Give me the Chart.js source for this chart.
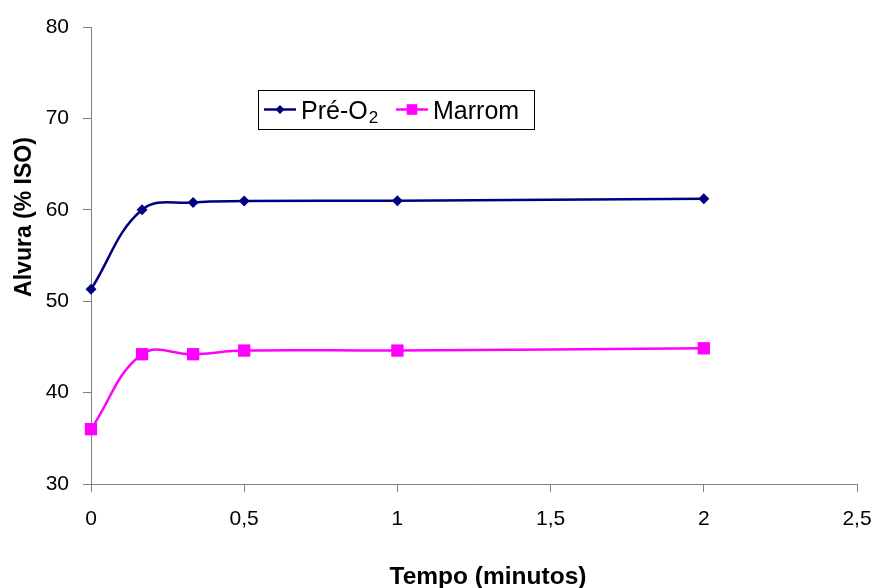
<!DOCTYPE html>
<html>
<head>
<meta charset="utf-8">
<script src="https://cdn.jsdelivr.net/npm/chart.js@4.4.1/dist/chart.umd.min.js"></script>
<style>
  html, body { margin: 0; padding: 0; background: #fff; }
  #wrap { width: 876px; height: 588px; }
</style>
</head>
<body>
<div id="wrap"><canvas id="chart" width="876" height="588"></canvas></div>
<script>
// data
const times = [0, 1 / 6, 1 / 3, 0.5, 1, 2];
const preO2 = [51.3, 60.0, 60.8, 60.95, 61.0, 61.2];
const marrom = [36.0, 44.2, 44.2, 44.6, 44.6, 44.85];
const seriesLabels = ["Pré-O₂", "Marrom"];
const xTitle = "Tempo (minutos)";
const yTitle = "Alvura (% ISO)";

const navy = "#000080";
const magenta = "#ff00ff";
const axisGray = "#808080";
const fontFamily = "'Liberation Sans', Arial, sans-serif";

const toPoints = (ys) => ys.map((y, i) => ({ x: times[i], y }));
const commaNum = (v) => String(Math.round(Number(v) * 10) / 10).replace(".", ",");

// draws text where subscript digits are drawn small and lowered
function drawLabel(ctx, text, x, y, size) {
  const subs = "₀₁₂₃₄₅₆₇₈₉";
  let cx = x;
  for (const ch of text) {
    const k = subs.indexOf(ch);
    if (k >= 0) {
      ctx.font = `${Math.round(size * 0.68)}px ${fontFamily}`;
      ctx.fillText(String(k), cx + 1, y + 4);
      cx += ctx.measureText(String(k)).width + 1;
    } else {
      ctx.font = `${size}px ${fontFamily}`;
      ctx.fillText(ch, cx, y);
      cx += ctx.measureText(ch).width;
    }
  }
}

function drawMarker(ctx, style, x, y, r, color) {
  ctx.fillStyle = color;
  ctx.beginPath();
  if (style === "rectRot") {
    ctx.moveTo(x - r, y);
    ctx.lineTo(x, y - r);
    ctx.lineTo(x + r, y);
    ctx.lineTo(x, y + r);
  } else {
    const s = r * Math.SQRT1_2;
    ctx.rect(x - s, y - s, 2 * s, 2 * s);
  }
  ctx.closePath();
  ctx.fill();
}

// axis titles + in-plot legend box (Excel style)
const extras = {
  id: "extras",
  afterDraw(chart) {
    const ctx = chart.ctx;
    ctx.save();
    ctx.fillStyle = "#000";
    ctx.textBaseline = "alphabetic";
    ctx.textAlign = "center";
    ctx.font = `bold 24.5px ${fontFamily}`;
    ctx.fillText(xTitle, 488, 584);
    ctx.save();
    ctx.font = `bold 23px ${fontFamily}`;
    ctx.translate(31, 217);
    ctx.rotate(-Math.PI / 2);
    ctx.fillText(yTitle, 0, 0);
    ctx.restore();

    // legend
    ctx.strokeStyle = "#000";
    ctx.lineWidth = 1;
    ctx.strokeRect(258.5, 90.5, 276, 39);
    ctx.textAlign = "left";
    const itemX = [264, 396];
    chart.data.datasets.forEach((ds, i) => {
      const x0 = itemX[i];
      const ly = 109.5;
      ctx.strokeStyle = ds.borderColor;
      ctx.lineWidth = 2.5;
      ctx.beginPath();
      ctx.moveTo(x0, ly);
      ctx.lineTo(x0 + 32, ly);
      ctx.stroke();
      drawMarker(ctx, ds.pointStyle, x0 + 16, ly, ds.pointStyle === "rectRot" ? 4.5 : 7.5, ds.borderColor);
      ctx.fillStyle = "#000";
      drawLabel(ctx, ds.label, x0 + 37, 119, 25);
    });
    ctx.restore();
  },
};

new Chart(document.getElementById("chart"), {
  type: "line",
  data: {
    datasets: [
      {
        label: seriesLabels[0],
        data: toPoints(preO2),
        borderColor: navy,
        backgroundColor: navy,
        borderWidth: 2.5,
        pointStyle: "rectRot",
        pointRadius: 5.5,
        pointBorderWidth: 0,
        tension: 0.4,
        clip: false,
      },
      {
        label: seriesLabels[1],
        data: toPoints(marrom),
        borderColor: magenta,
        backgroundColor: magenta,
        borderWidth: 2.5,
        pointStyle: "rect",
        pointRadius: 8.7,
        pointBorderWidth: 0,
        tension: 0.4,
        clip: false,
      },
    ],
  },
  options: {
    responsive: false,
    animation: false,
    layout: { padding: { top: 27, right: 19, bottom: 44, left: 0 } },
    plugins: { legend: { display: false }, tooltip: { enabled: false } },
    scales: {
      x: {
        type: "linear",
        min: 0,
        max: 2.5,
        afterFit: (s) => {
          s.height = 60;
          s.paddingLeft = 0;
          s.paddingRight = 0;
        },
        border: { color: axisGray, width: 1 },
        grid: { drawOnChartArea: false, color: axisGray, tickLength: 8 },
        ticks: {
          stepSize: 0.5,
          padding: 15,
          color: "#000",
          font: { family: fontFamily, size: 21 },
          callback: (v) => commaNum(v),
        },
      },
      y: {
        min: 30,
        max: 80,
        afterFit: (s) => {
          s.width = 91;
          s.paddingTop = 0;
          s.paddingBottom = 0;
        },
        border: { color: axisGray, width: 1 },
        grid: { drawOnChartArea: false, color: axisGray, tickLength: 8 },
        ticks: {
          stepSize: 10,
          padding: 14,
          color: "#000",
          font: { family: fontFamily, size: 21 },
        },
      },
    },
  },
  plugins: [extras],
});
</script>
</body>
</html>
